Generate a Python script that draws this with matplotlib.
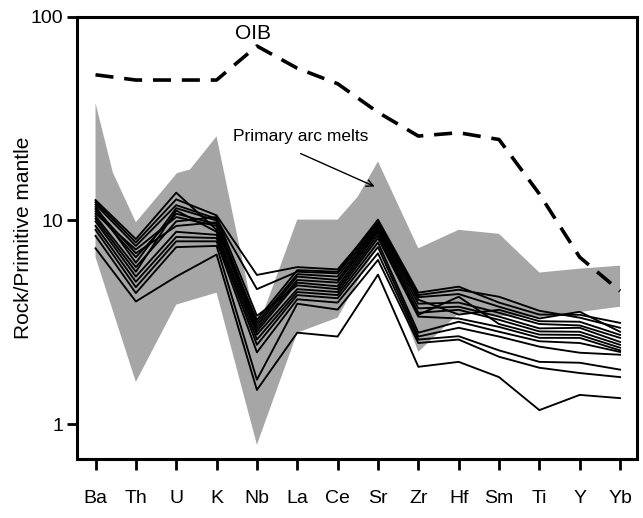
import numpy as np
import matplotlib.pyplot as plt
from matplotlib.ticker import NullLocator

plt.rcParams['font.family'] = ['Liberation Sans', 'DejaVu Sans']

## element order of the spider diagram
elements = ['Ba', 'Th', 'U', 'K', 'Nb', 'La', 'Ce', 'Sr', 'Zr', 'Hf', 'Sm', 'Ti', 'Y', 'Yb']

## OIB reference pattern
oib = [52, 49, 49, 49, 72, 56, 47, 34, 26, 27, 25, 13.5, 6.6, 4.5]

## primary arc melt envelope (x = element index, may be fractional)
env_upper_x = [0, 0.43, 1, 2.02, 2.34, 3, 4, 5, 6, 6.5, 7, 8, 9, 10, 11, 12, 13]
env_upper_y = [37.7, 17.2, 9.8, 17.1, 17.8, 25.9, 2.9, 10.1, 10.1, 13.1, 19.5, 7.3, 9.0, 8.6, 5.55, 5.8, 6.0]
env_lower_x = [0, 1, 2, 3, 4, 5, 6, 7, 8, 9, 10, 11, 12, 13]
env_lower_y = [6.6, 1.61, 3.86, 4.42, 0.79, 2.81, 3.33, 7.6, 2.26, 3.5, 3.4, 3.35, 3.55, 3.77]

## samples
samples = [
    [12.6, 8.1, 13.7, 9.0, 3.25, 5.7, 5.6, 10.1, 4.42, 4.73, 3.95, 3.45, 3.44, 3.14],
    [12.3, 7.8, 12.7, 10.6, 5.4, 5.9, 5.75, 9.8, 4.3, 4.57, 4.22, 3.6, 3.33, 2.97],
    [12.0, 7.5, 11.9, 10.2, 4.6, 5.6, 5.5, 9.6, 4.2, 4.35, 3.77, 3.3, 3.56, 2.84],
    [11.7, 6.2, 11.5, 10.0, 3.15, 5.45, 5.3, 9.4, 4.08, 3.45, 3.64, 3.2, 3.18, 2.74],
    [11.4, 6.9, 9.4, 9.8, 3.05, 5.3, 5.1, 9.2, 3.9, 3.95, 3.52, 3.1, 3.05, 2.65],
    [11.1, 6.6, 10.8, 9.6, 2.95, 5.1, 4.95, 9.0, 3.7, 3.77, 3.37, 2.95, 2.97, 2.53],
    [10.8, 7.2, 10.4, 9.4, 2.85, 4.95, 4.75, 8.8, 3.52, 3.64, 3.25, 2.85, 2.84, 2.45],
    [10.5, 5.9, 9.9, 10.4, 3.4, 4.8, 4.6, 8.5, 3.44, 4.22, 3.1, 2.75, 2.74, 2.37],
    [10.2, 5.6, 11.2, 8.8, 2.75, 4.6, 4.45, 8.2, 3.37, 3.3, 3.0, 2.65, 2.65, 2.3],
    [9.9, 5.3, 8.8, 8.5, 2.6, 4.45, 4.3, 7.8, 2.81, 3.18, 2.84, 2.55, 2.5, 2.26],
    [9.4, 5.0, 8.3, 8.2, 2.45, 4.3, 4.15, 7.4, 2.69, 2.97, 2.69, 2.4, 2.24, 2.19],
    [9.0, 4.7, 7.9, 7.9, 2.25, 4.1, 3.95, 6.9, 2.6, 2.7, 2.3, 2.02, 2.0, 1.85],
    [8.4, 4.4, 7.4, 7.5, 1.65, 3.9, 3.65, 6.4, 2.5, 2.6, 2.14, 1.89, 1.78, 1.70],
    [7.3, 4.0, 5.3, 6.8, 1.47, 2.81, 2.69, 5.42, 1.91, 2.02, 1.70, 1.17, 1.39, 1.34],
]

x = np.arange(len(elements))

fig = plt.figure(figsize=(6.43, 5.18), dpi=100)
ax = fig.add_axes([0.1198, 0.1139, 0.8709, 0.8533])

## envelope
px = np.r_[env_upper_x, env_lower_x[::-1]]
py = np.r_[env_upper_y, env_lower_y[::-1]]
ax.fill(px, py, color='#a6a6a6', lw=0, zorder=1)

## sample lines
for s in samples:
    ax.plot(x, s, color='black', lw=1.35, zorder=2)

## OIB
ax.plot(x, oib, color='black', lw=2.6, dashes=(5, 3), zorder=3)
ax.text(3.9, 83, 'OIB', fontsize=15, ha='center', va='center')

## annotation
ax.text(3.41, 25.9, 'Primary arc melts', fontsize=12.5, ha='left', va='center')
ax.annotate('', xy=(6.98, 14.5), xytext=(5.02, 21.6),
            arrowprops=dict(arrowstyle='->', color='black', lw=1.0, mutation_scale=12))

## axes setup
ax.set_yscale('log')
ax.set_ylim(0.673, 100)
ax.set_xlim(-0.458, 13.42)
ax.set_yticks([1, 10, 100])
ax.set_yticklabels(['1', '10', '100'])
ax.yaxis.set_minor_locator(NullLocator())
ax.set_xticks(x)
ax.set_xticklabels(elements)
ax.set_ylabel('Rock/Primitive mantle', fontsize=15)
ax.yaxis.set_label_coords(-0.079, 0.5)

for sp in ax.spines.values():
    sp.set_linewidth(2.2)
ax.tick_params(axis='y', which='major', length=7, width=2, labelsize=14, pad=3)
ax.tick_params(axis='x', which='major', length=8, width=2, labelsize=14, pad=14)

plt.savefig('out.png', dpi=100)
